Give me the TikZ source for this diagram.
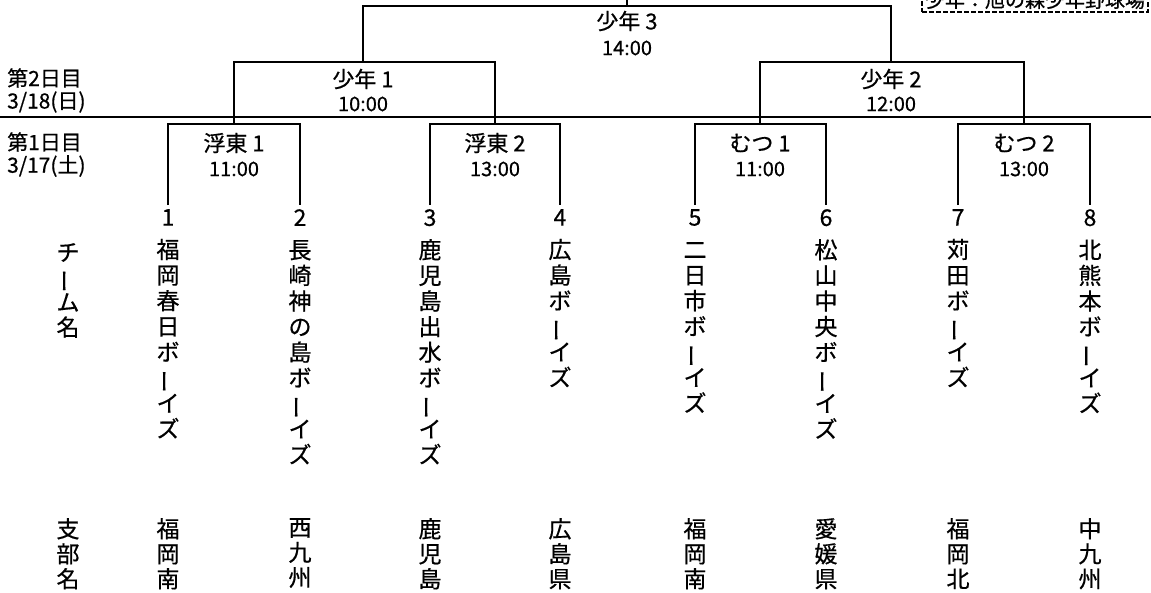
\documentclass[tikz,border=0pt]{standalone}
\usepackage{fontspec}
\setmainfont{Noto Sans CJK JP}[FakeBold=0.6]
\newcommand\tbar{\rotatebox[origin=c]{90}{ー}}

\begin{document}
\begin{tikzpicture}[x=1pt,y=-1pt,
    bracket/.style={line width=2.6pt},
    match/.style={inner sep=0pt, font=\fontsize{22}{26}\selectfont},
    slot/.style={inner sep=0pt, font=\fontsize{20}{24}\selectfont},
    day/.style={anchor=west, inner sep=0pt, font=\fontsize{21}{25}\selectfont},
    team/.style={anchor=north, align=center, inner sep=0pt, inner ysep=4pt,
        execute at begin node=\strut, font=\fontsize{23}{25.6}\selectfont},
    branch/.style={anchor=north, align=center, inner sep=0pt,
        execute at begin node=\strut, font=\fontsize{23}{25}\selectfont},
    venue/.style={anchor=south west, draw, line width=2pt, dash pattern=on 5pt off 2pt,
        inner sep=3pt, font=\fontsize{20}{24}\selectfont}]
\useasboundingbox (0,0) rectangle (1151,592);

\node[venue] (venue) at (921,13) {少年：旭の森少年野球場};

\coordinate (rule-l) at (0,117);
\coordinate (rule-r) at (1151,117);
\draw[line width=1.2pt] (rule-l) -- (rule-r);

\node[day] (day2) at (7,78) {第2日目};
\node[day] (date2) at (7,102) {3/18(日)};
\node[day] (day1) at (7,142) {第1日目};
\node[day] (date1) at (7,166) {3/17(土)};

\coordinate (top) at (627,-2);
\coordinate (s3) at (627,6);
\coordinate (s1) at (363,62);
\coordinate (s2) at (891,62);
\coordinate (u1) at (234,124);
\coordinate (u2) at (495,124);
\coordinate (m1) at (760,124);
\coordinate (m2) at (1024,124);

\node[match] (s3-name) at (627,21) {少年 3};
\node[slot] (s3-time) at (627,48) {14:00};
\node[match] (s1-name) at (363,79) {少年 1};
\node[slot] (s1-time) at (363,104) {10:00};
\node[match] (s2-name) at (891,79) {少年 2};
\node[slot] (s2-time) at (891,104) {12:00};
\node[match] (u1-name) at (234,143) {浮東 1};
\node[slot] (u1-time) at (234,169) {11:00};
\node[match] (u2-name) at (495,143) {浮東 2};
\node[slot] (u2-time) at (495,169) {13:00};
\node[match] (m1-name) at (760,143) {むつ 1};
\node[slot] (m1-time) at (760,169) {11:00};
\node[match] (m2-name) at (1024,143) {むつ 2};
\node[slot] (m2-time) at (1024,169) {13:00};

\node[branch] (teamhead) at (68,243) {チ\\\tbar\\ム\\名};
\node[team] (t1) at (168,205) {1\\[7pt]福\\岡\\春\\日\\ボ\\\tbar\\イ\\ズ};
\node[team] (t2) at (300,205) {2\\[7pt]長\\崎\\神\\の\\島\\ボ\\\tbar\\イ\\ズ};
\node[team] (t3) at (430,205) {3\\[7pt]鹿\\児\\島\\出\\水\\ボ\\\tbar\\イ\\ズ};
\node[team] (t4) at (560,205) {4\\[7pt]広\\島\\ボ\\\tbar\\イ\\ズ};
\node[team] (t5) at (695,205) {5\\[7pt]二\\日\\市\\ボ\\\tbar\\イ\\ズ};
\node[team] (t6) at (826,205) {6\\[7pt]松\\山\\中\\央\\ボ\\\tbar\\イ\\ズ};
\node[team] (t7) at (958,205) {7\\[7pt]苅\\田\\ボ\\\tbar\\イ\\ズ};
\node[team] (t8) at (1090,205) {8\\[7pt]北\\熊\\本\\ボ\\\tbar\\イ\\ズ};

\node[branch] (branchhead) at (68,518) {支\\部\\名};
\node[branch] (b1) at (168,518) {福\\岡\\南};
\node[branch] (b2) at (300,518) {西\\九\\州};
\node[branch] (b3) at (430,518) {鹿\\児\\島};
\node[branch] (b4) at (560,518) {広\\島\\県};
\node[branch] (b5) at (695,518) {福\\岡\\南};
\node[branch] (b6) at (826,518) {愛\\媛\\県};
\node[branch] (b7) at (958,518) {福\\岡\\北};
\node[branch] (b8) at (1090,518) {中\\九\\州};

\draw[bracket] (t1.north) |- (u1) -| (t2.north);
\draw[bracket] (t3.north) |- (u2) -| (t4.north);
\draw[bracket] (t5.north) |- (m1) -| (t6.north);
\draw[bracket] (t7.north) |- (m2) -| (t8.north);
\draw[bracket] (u1) |- (s1) -| (u2);
\draw[bracket] (m1) |- (s2) -| (m2);
\draw[bracket] (s1) |- (s3) -| (s2);
\draw[bracket] (s3) -- (top);
\end{tikzpicture}
\end{document}
